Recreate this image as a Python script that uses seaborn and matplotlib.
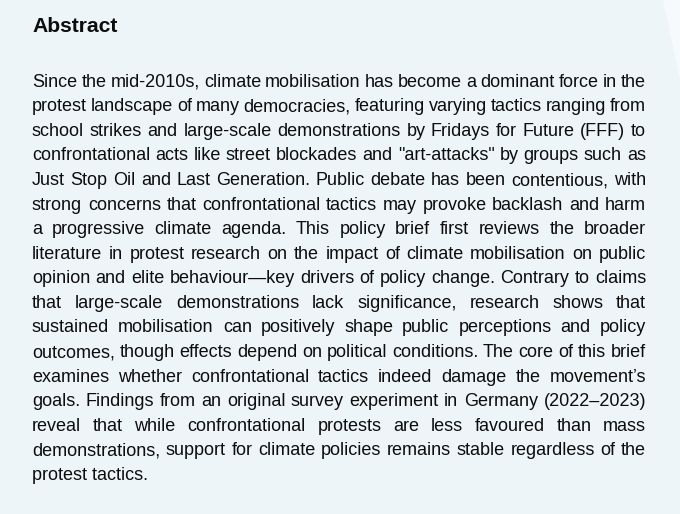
import matplotlib
matplotlib.use("Agg")
import matplotlib.pyplot as plt
import seaborn as sns
from matplotlib.patches import Polygon

# Text content, line by line as laid out in the reference
TITLE = "Abstract"
LINES = [
    "Since the mid-2010s, climate mobilisation has become a dominant force in the",
    "protest landscape of many democracies, featuring varying tactics ranging from",
    "school strikes and large-scale demonstrations by Fridays for Future (FFF) to",
    "confrontational acts like street blockades and \"art-attacks\" by groups such as",
    "Just Stop Oil and Last Generation. Public debate has been contentious, with",
    "strong concerns that confrontational tactics may provoke backlash and harm",
    "a progressive climate agenda. This policy brief first reviews the broader",
    "literature in protest research on the impact of climate mobilisation on public",
    "opinion and elite behaviour\u2014key drivers of policy change. Contrary to claims",
    "that large-scale demonstrations lack significance, research shows that",
    "sustained mobilisation can positively shape public perceptions and policy",
    "outcomes, though effects depend on political conditions. The core of this brief",
    "examines whether confrontational tactics indeed damage the movement\u2019s",
    "goals. Findings from an original survey experiment in Germany (2022\u20132023)",
    "reveal that while confrontational protests are less favoured than mass",
    "demonstrations, support for climate policies remains stable regardless of the",
    "protest tactics.",
]

W, H = 680, 514
LEFT, RIGHT = 32, 646
FIRST_BASE, LINE_STEP = 86.7, 24.58
BODY_SIZE = 13
PANEL = "#edf5f8"
OUTSIDE = "#f6fafc"

sns.set_theme(style="white")
plt.rcParams['font.family'] = ['Liberation Sans', 'DejaVu Sans']

fig = plt.figure(figsize=(W / 100, H / 100), dpi=100)
fig.patch.set_facecolor(PANEL)
ax = fig.add_axes([0, 0, 1, 1])
ax.set_xlim(0, W)
ax.set_ylim(H, 0)
ax.set_facecolor(PANEL)
ax.axis("off")

# lighter corner outside the rounded panel
ax.add_patch(Polygon([(663, 0), (W, 0), (W, 80)], closed=True,
                     facecolor=OUTSIDE, edgecolor="none"))

ax.text(LEFT, 31.7, TITLE, fontsize=15.2, fontweight="bold", color="#0d0d0d",
        va="baseline", ha="left")

fig.canvas.draw()
renderer = fig.canvas.get_renderer()

def draw_justified(line, y, last):
    words = line.split(" ")
    if last or len(words) == 1:
        ax.text(LEFT, y, line, fontsize=BODY_SIZE, color="#0d0d0d",
                va="baseline", ha="left")
        return
    texts = [ax.text(0, y, w, fontsize=BODY_SIZE, color="#0d0d0d",
                     va="baseline", ha="left") for w in words]
    widths = [t.get_window_extent(renderer).width for t in texts]
    gap = (RIGHT - LEFT - sum(widths)) / (len(words) - 1)
    x = LEFT
    for t, wd in zip(texts, widths):
        t.set_x(x)
        x += wd + gap

for i, line in enumerate(LINES):
    draw_justified(line, FIRST_BASE + i * LINE_STEP, i == len(LINES) - 1)

fig.savefig("out.png", dpi=100, facecolor=fig.get_facecolor())
